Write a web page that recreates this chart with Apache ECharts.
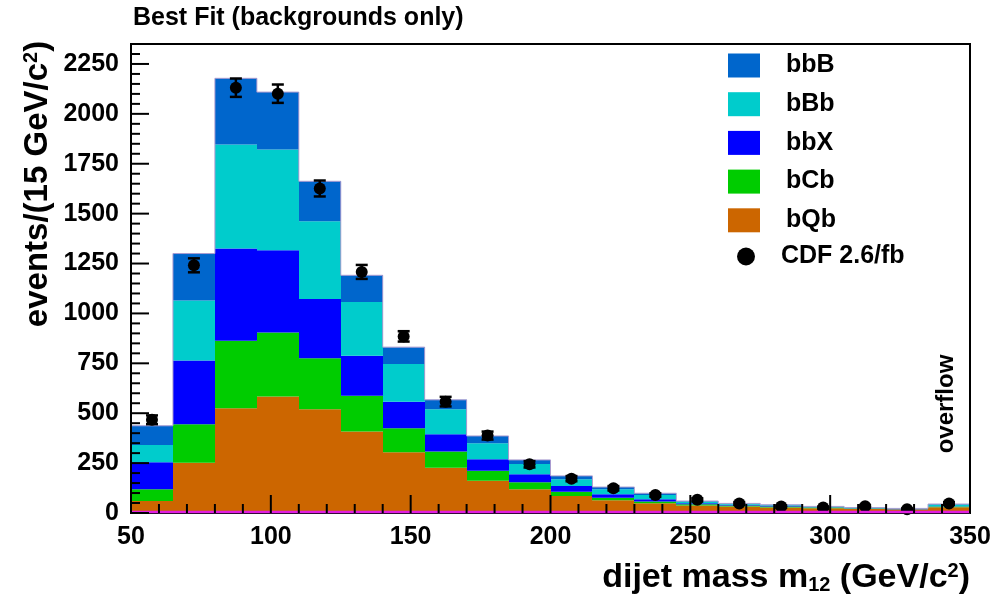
<!DOCTYPE html>
<html>
<head>
<meta charset="utf-8">
<script src="https://cdn.jsdelivr.net/npm/echarts@6/dist/echarts.min.js"></script>
<style>
  html, body { margin: 0; padding: 0; background: #fff; }
  #chart { width: 1001px; height: 598px; }
</style>
</head>
<body>
<div id="chart"></div>
<script>
// Dijet mass bins (lower edges, GeV/c^2); each bin is 15 GeV wide, the last one is the overflow bin.
const binLow = [50, 65, 80, 95, 110, 125, 140, 155, 170, 185, 200, 215, 230, 245, 260, 275, 290, 305, 320, 335];
const binWidth = 15;

// Fitted background templates, events per bin (stacked bottom to top: bQb, bCb, bbX, bBb, bbB)
const bQb = [60, 252, 525, 584, 520, 408, 305, 227, 161, 119, 85, 64, 49, 38, 32, 28, 24, 20, 17, 29];
const bCb = [59, 193, 338, 321, 256, 179, 120, 81, 51, 35, 22, 13, 8, 6, 5, 4, 3, 2, 2, 3];
const bbX = [135, 319, 462, 411, 296, 201, 133, 87, 57, 40, 28, 17, 12, 5, 4, 3, 2, 2, 1, 2];
const bBb = [87, 301, 521, 505, 390, 269, 188, 125, 81, 52, 34, 25, 21, 8, 5, 4, 3, 2, 2, 8];
const bbB = [96, 235, 332, 288, 200, 134, 85, 47, 36, 20, 17, 11, 9, 3, 2, 2, 1, 1, 1, 3];

// CDF data (2.6 fb^-1) and statistical uncertainties
const cdfData = [467, 1241, 2131, 2101, 1626, 1208, 885, 558, 388, 244, 172, 124, 90, 66, 48, 32, 27, 34, 19, 48];
const cdfErr = [22, 35, 46, 46, 40, 35, 26, 24, 20, 16, 13, 11, 9, 8, 7, 6, 5, 6, 4, 7];

// Axis ranges and tick spacing (5 minor divisions per major step)
const xRange = [50, 350];
const xMajor = 50;
const yRange = [0, 2350];
const yMajor = 250;
const minorDivisions = 5;

const FONT = '"Liberation Sans", Arial, Helvetica, sans-serif';

const layers = [
  { name: 'bQb', values: bQb, color: '#cc6600' },
  { name: 'bCb', values: bCb, color: '#00cc00' },
  { name: 'bbX', values: bbX, color: '#0000ff' },
  { name: 'bBb', values: bBb, color: '#00cccc' },
  { name: 'bbB', values: bbB, color: '#0066cc' }
];

// Build stacked [low, high, base, top] items for each template
const running = binLow.map(() => 0);
const layerSeries = layers.map(function (layer) {
  const items = binLow.map(function (lo, i) {
    const base = running[i];
    const top = base + layer.values[i];
    running[i] = top;
    return [lo, lo + binWidth, base, top];
  });
  return {
    name: layer.name,
    type: 'custom',
    itemStyle: { color: layer.color },
    encode: { x: [0, 1], y: [2, 3] },
    data: items,
    silent: true,
    renderItem: function (params, api) {
      const p0 = api.coord([api.value(0), api.value(3)]);
      const p1 = api.coord([api.value(1), api.value(2)]);
      const x0 = Math.round(p0[0]), x1 = Math.round(p1[0]);
      return {
        type: 'rect',
        shape: { x: x0, y: p0[1], width: x1 - x0, height: p1[1] - p0[1] },
        style: { fill: layer.color, stroke: null }
      };
    }
  };
});

// Outline of the total stack: [low, high, previous bin total, bin total, is last bin]
const totals = running.slice();
const outlineData = binLow.map(function (lo, i) {
  return [lo, lo + binWidth, i > 0 ? totals[i - 1] : 0, totals[i], i === binLow.length - 1 ? 1 : 0];
});

const centers = binLow.map(function (lo) { return lo + binWidth / 2; });
const pointData = centers.map(function (c, i) { return [c, cdfData[i]]; });
const errData = centers.map(function (c, i) { return [c, cdfData[i], cdfErr[i]]; });

const chart = echarts.init(document.getElementById('chart'), null, { renderer: 'canvas' });

const labelStyle = { color: '#000', fontFamily: FONT, fontWeight: 'bold', fontSize: 25 };

const textGraphics = [
  {
    type: 'text', left: 133, top: 6,
    style: { text: 'Best Fit (backgrounds only)', fill: '#000', font: 'bold 25px ' + FONT }
  },
  {
    type: 'text', x: 38, y: 184, rotation: Math.PI / 2,
    style: {
      text: '{t|events/(15 GeV/c}{sup|2}{t|)}',
      align: 'center', verticalAlign: 'middle',
      rich: {
        t: { font: 'bold 33px ' + FONT, fill: '#000', lineHeight: 38 },
        sup: { font: 'bold 20px ' + FONT, fill: '#000', lineHeight: 38, padding: [0, 0, 14, 0] }
      }
    }
  },
  {
    type: 'text', x: 970, y: 578,
    style: {
      text: '{t|dijet mass m}{sub|12}{t| (GeV/c}{sup|2}{t|)}',
      align: 'right', verticalAlign: 'middle',
      rich: {
        t: { font: 'bold 34px ' + FONT, fill: '#000', lineHeight: 38 },
        sub: { font: 'bold 20px ' + FONT, fill: '#000', lineHeight: 38, padding: [14, 0, 0, 0] },
        sup: { font: 'bold 20px ' + FONT, fill: '#000', lineHeight: 38, padding: [0, 0, 14, 0] }
      }
    }
  },
  {
    type: 'text', x: 946, y: 404, rotation: Math.PI / 2,
    style: { text: 'overflow', align: 'center', verticalAlign: 'middle', fill: '#000', font: 'bold 24px ' + FONT }
  }
];

chart.setOption({
  animation: false,
  backgroundColor: '#fff',
  grid: {
    left: 131, right: 31, top: 44, bottom: 85,
    show: true, borderColor: '#000', borderWidth: 2, backgroundColor: 'transparent'
  },
  xAxis: {
    type: 'value', min: xRange[0], max: xRange[1], interval: xMajor, position: 'bottom', z: 10,
    axisLine: { show: true, onZero: false, lineStyle: { color: '#000', width: 2 } },
    axisTick: { show: false },
    axisLabel: Object.assign({ margin: 12, formatter: function (v) { return String(v); } }, labelStyle),
    splitLine: { show: false }
  },
  yAxis: {
    type: 'value', min: yRange[0], max: yRange[1], interval: yMajor, position: 'left', z: 10,
    axisLine: { show: true, onZero: false, lineStyle: { color: '#000', width: 2 } },
    axisTick: { show: false },
    axisLabel: Object.assign({ margin: 12, showMaxLabel: false, formatter: function (v) { return String(v); } }, labelStyle),
    splitLine: { show: false }
  },
  legend: [
    {
      data: ['bbB', 'bBb', 'bbX', 'bCb', 'bQb'].map(function (n) { return { name: n, icon: 'rect' }; }),
      orient: 'vertical', left: 728, top: 53, padding: 0,
      itemWidth: 32, itemHeight: 24, itemGap: 13.7,
      selectedMode: false,
      textStyle: { color: '#000', fontFamily: FONT, fontWeight: 'bold', fontSize: 25, padding: [0, 0, 0, 21] }
    },
    {
      data: [{ name: 'CDF 2.6/fb', icon: 'circle', itemStyle: { color: '#000', opacity: 1 } }],
      orient: 'vertical', left: 737, top: 244, padding: 0,
      itemWidth: 18, itemHeight: 18,
      selectedMode: false,
      textStyle: { color: '#000', fontFamily: FONT, fontWeight: 'bold', fontSize: 25, padding: [0, 0, 0, 21] }
    }
  ],
  series: layerSeries.concat([
    {
      type: 'custom',
      data: outlineData,
      encode: { x: [0, 1], y: [2, 3] },
      silent: true,
      z: 3,
      renderItem: function (params, api) {
        const lo = api.value(0), hi = api.value(1);
        const pts = [
          api.coord([lo, api.value(2)]),
          api.coord([lo, api.value(3)]),
          api.coord([hi, api.value(3)])
        ];
        if (api.value(4)) pts.push(api.coord([hi, 0]));
        return {
          type: 'polyline',
          shape: { points: pts },
          style: { stroke: '#a99bd0', lineWidth: 1, fill: null }
        };
      }
    },
    {
      type: 'custom',
      data: errData,
      encode: { x: 0, y: 1 },
      silent: true,
      z: 4,
      renderItem: function (params, api) {
        const x = api.value(0), y = api.value(1), e = api.value(2);
        const hi = api.coord([x, y + e]);
        const lo = api.coord([x, y - e]);
        const cap = 6;
        const st = { stroke: '#000', lineWidth: 2.5 };
        return {
          type: 'group',
          children: [
            { type: 'line', shape: { x1: hi[0], y1: hi[1], x2: lo[0], y2: lo[1] }, style: st },
            { type: 'line', shape: { x1: hi[0] - cap, y1: hi[1], x2: hi[0] + cap, y2: hi[1] }, style: st },
            { type: 'line', shape: { x1: lo[0] - cap, y1: lo[1], x2: lo[0] + cap, y2: lo[1] }, style: st }
          ]
        };
      }
    },
    {
      name: 'CDF 2.6/fb',
      type: 'scatter',
      data: pointData,
      symbol: 'circle',
      symbolSize: 12,
      itemStyle: { color: '#000', opacity: 1 },
      silent: true,
      z: 5
    }
  ]),
  graphic: textGraphics
});

// Inward frame ticks and the zero line of the (empty) signal histogram,
// placed through the grid's own value-to-pixel conversion.
const frameGraphics = [];
const toPx = function (v) { return chart.convertToPixel({ gridIndex: 0 }, v); };
const xStep = xMajor / minorDivisions, yStep = yMajor / minorDivisions;

const z0a = toPx([xRange[0], 0]), z0b = toPx([xRange[1], 0]);
frameGraphics.push({
  type: 'line', silent: true, z: 90,
  shape: { x1: z0a[0], y1: z0a[1] - 1, x2: z0b[0], y2: z0b[1] - 1 },
  style: { stroke: '#e01ee0', lineWidth: 2.5 }
});
for (let k = 0; xRange[0] + k * xStep <= xRange[1]; k++) {
  const p = toPx([xRange[0] + k * xStep, yRange[0]]);
  const len = k % minorDivisions === 0 ? 18 : 9;
  frameGraphics.push({
    type: 'line', silent: true, z: 100,
    shape: { x1: p[0], y1: p[1], x2: p[0], y2: p[1] - len },
    style: { stroke: '#000', lineWidth: 2 }
  });
}
for (let k = 0; yRange[0] + k * yStep <= yRange[1]; k++) {
  const p = toPx([xRange[0], yRange[0] + k * yStep]);
  const len = k % minorDivisions === 0 ? 18 : 9;
  frameGraphics.push({
    type: 'line', silent: true, z: 100,
    shape: { x1: p[0], y1: p[1], x2: p[0] + len, y2: p[1] },
    style: { stroke: '#000', lineWidth: 2 }
  });
}

chart.setOption({ graphic: textGraphics.concat(frameGraphics) });
</script>
</body>
</html>
